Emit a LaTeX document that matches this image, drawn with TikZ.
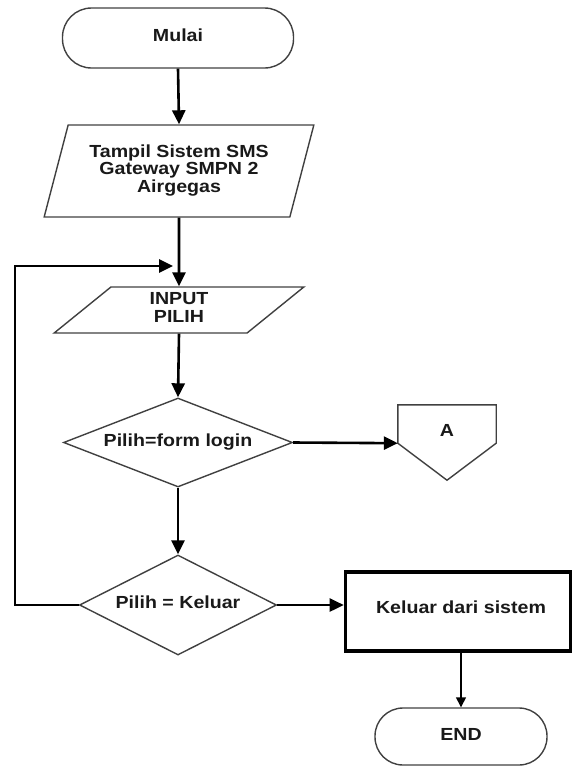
\documentclass[tikz,border=0pt]{standalone}
\usepackage{fontspec}
\setmainfont{Liberation Sans}
\usepackage{graphicx}
\usetikzlibrary{shapes.geometric,arrows.meta,calc}
\newcommand{\tx}[1]{\scalebox{1.12}[1]{\begin{tabular}{@{}c@{}}#1\end{tabular}}}
\begin{document}
\begin{tikzpicture}[x=1pt,y=-1pt,
  every node/.style={font=\bfseries\fontsize{17.5}{17.5}\selectfont, inner sep=0pt, text=black!90},
  shapeline/.style={draw=black!75, line width=1.4pt},
  term/.style={shapeline, rectangle, rounded corners=29pt, minimum height=60pt},
  io/.style={shapeline, trapezium, trapezium stretches=true},
  dec/.style={shapeline, diamond},
  procbox/.style={draw=black, line width=3.6pt, rectangle},
  arr/.style={-{Triangle[length=14pt,width=13pt]}, line width=2.6pt, draw=black},
  thinarr/.style={-{Triangle[length=10pt,width=10pt]}, line width=1.4pt, draw=black}
]
\useasboundingbox (0,0) rectangle (573,766);

\node[term, minimum width=231pt] (mulai) at (178,38) {\tx{Mulai}};
\node[io, trapezium left angle=70, trapezium right angle=110,
      minimum width=270pt, minimum height=92pt] (tampil) at (179,171)
      {\tx{Tampil Sistem SMS\\Gateway SMPN 2\\Airgegas}};
\node[io, trapezium left angle=55, trapezium right angle=125,
      minimum width=250pt, minimum height=46pt] (input) at (179,310)
      {\tx{INPUT\\PILIH}};
\node[dec, aspect=2.57, minimum width=229pt, minimum height=89pt] (d1) at (178,442.5) {\tx{Pilih=form login}};
\node[dec, aspect=1.97, minimum width=197pt, minimum height=100pt] (d2) at (178,605) {\tx{Pilih = Keluar}};

% off-page connector A
\node[minimum width=98pt, minimum height=38pt] (A) at (447,424) {};
\draw[shapeline] (A.north west) -- (A.north east) -- (A.south east)
  -- ($(A.south)+(0,37)$) -- (A.south west) -- cycle;
\node (Atext) at (447,433) {\tx{A}};

\node[procbox, minimum width=225pt, minimum height=79pt] (keluar) at (458,611.5) {};
\node (keluartext) at (461,610) {\tx{Keluar dari sistem}};
\node[term, rounded corners=28pt, minimum width=172pt, minimum height=57pt] (end) at (461,736.5) {\tx{END}};

\coordinate (lp) at (15,266);
\coordinate (j) at (173,266);

\draw[arr] (mulai.south) -- (tampil.north);
\draw[arr] (tampil.south) -- (input.north);
\draw[arr] (input.south) -- (d1.north);
\draw[arr] (d1.east) -- (A.south west);
\draw[arr] (d1.south) -- (d2.north);
\draw[arr] (d2.east) -- (d2.east -| keluar.west);
\draw[arr] (d2.west) -| (lp) -- (j);
\draw[thinarr] (keluar.south -| end.north) -- (end.north);
\end{tikzpicture}
\end{document}
